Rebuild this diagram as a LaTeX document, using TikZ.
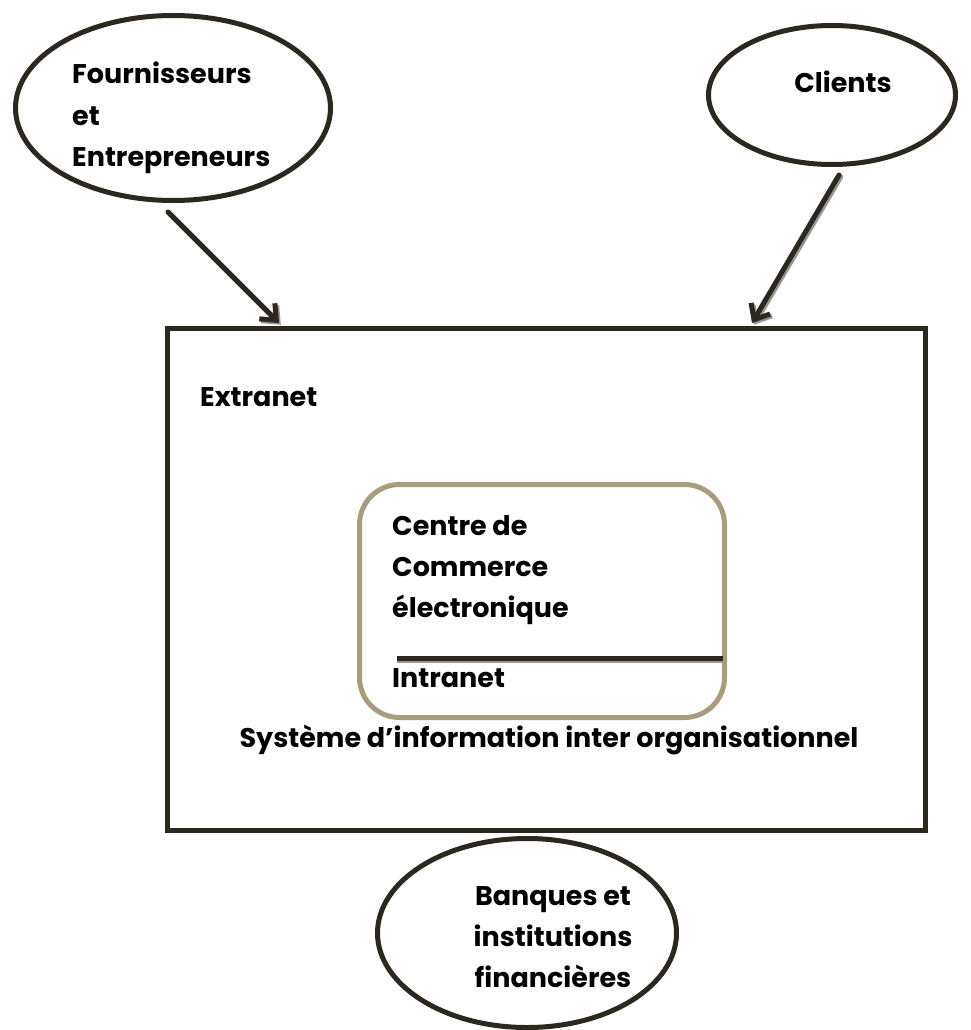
\documentclass[tikz,border=0pt]{standalone}
\usepackage{fontspec}
\setmainfont{Poppins}
\usetikzlibrary{shapes.geometric,arrows.meta}
\definecolor{ink}{RGB}{44,40,32}
\definecolor{tan}{RGB}{168,156,126}
\definecolor{shade}{RGB}{150,150,150}
\tikzset{
	bubble/.style={ellipse, draw=ink, line width=5pt, inner sep=0pt},
	lbl/.style={font=\fontsize{27}{41}\selectfont\bfseries, inner sep=0pt, align=left},
	flow/.style={draw=ink, line width=5pt, line cap=round, line join=round,
		-{Straight Barb[length=13pt,width=22pt]}},
	flowshade/.style={flow, draw=shade, transform canvas={shift={(1.8pt,-1.8pt)}}},
}
\begin{document}
\begin{tikzpicture}[x=1pt,y=-1pt]
	\useasboundingbox (0,0) rectangle (971,1030);
	% partenaires
	\node[bubble, minimum width=315pt, minimum height=185pt] (fourn) at (173,108) {};
	\node[bubble, minimum width=247pt, minimum height=139pt] (cli) at (832,95) {};
	\node[bubble, minimum width=299pt, minimum height=189pt] (banq) at (527,933) {};
	\node[lbl, anchor=base west] (tfourn) at (72,166) {Fournisseurs\\et\\Entrepreneurs};
	\node[lbl, anchor=base] (tcli) at (843,93) {Clients};
	\node[lbl, align=center, anchor=base] (tbanq) at (553,987) {Banques et\\institutions\\financières};
	% extranet / intranet
	\node[draw=ink, line width=5pt, inner sep=0pt, minimum width=758pt, minimum height=502pt] (ext) at (546.5,579.5) {};
	\node[draw=tan, line width=5pt, inner sep=0pt, rounded corners=40pt, minimum width=365pt, minimum height=233pt] (intra) at (542,601) {};
	\node[lbl, anchor=base west] (text) at (200,406) {Extranet};
	\node[lbl, anchor=base west] (tcentre) at (392,617) {Centre de\\Commerce\\électronique};
	\node[lbl, anchor=base west] (tintra) at (392,687) {Intranet};
	\node[lbl, anchor=base] (tsys) at (549,747) {Système d’information inter organisationnel};
	\coordinate (sepL) at (397,658);
	\coordinate (sepR) at (723,658);
	\draw[draw=shade, line width=5pt, transform canvas={shift={(0pt,-2pt)}}] (sepL) -- (sepR);
	\draw[draw=ink, line width=5pt] (sepL) -- (sepR);
	% fleches
	\coordinate (inF) at (279,323);
	\coordinate (inC) at (752,323);
	\draw[flowshade] ([shift={(-5pt,-9pt)}]fourn.south) -- (inF);
	\draw[flow] ([shift={(-5pt,-9pt)}]fourn.south) -- (inF);
	\draw[flowshade] ([shift={(7pt,-8pt)}]cli.south) -- (inC);
	\draw[flow] ([shift={(7pt,-8pt)}]cli.south) -- (inC);
\end{tikzpicture}
\end{document}
